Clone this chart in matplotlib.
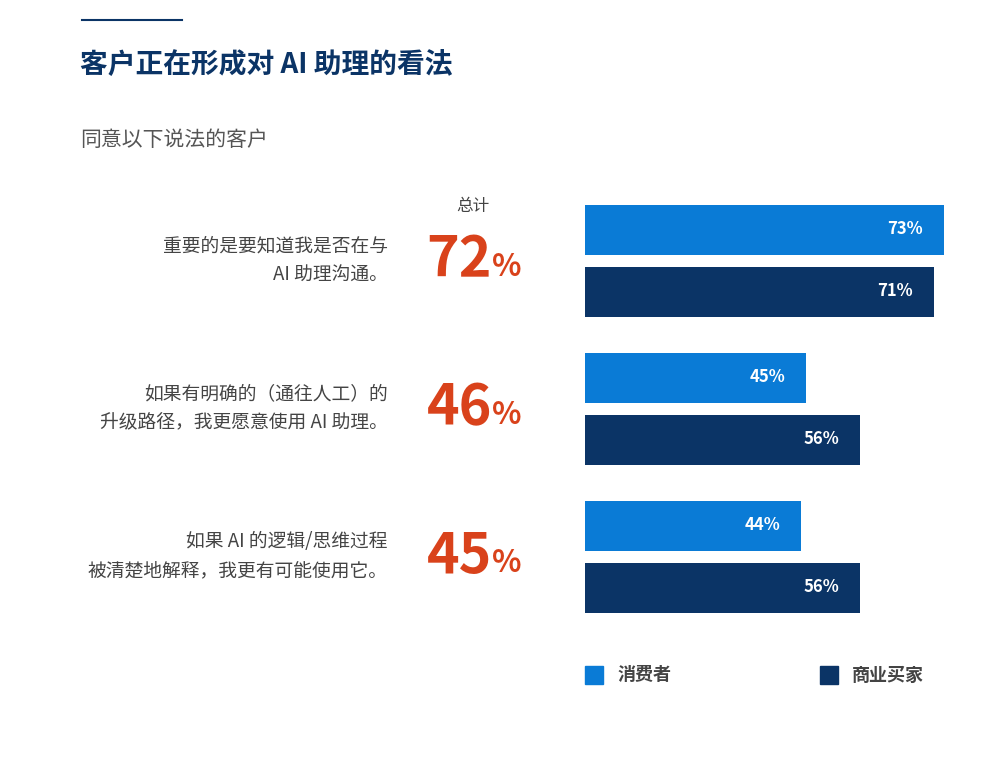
import matplotlib
matplotlib.use("Agg")
from matplotlib import pyplot as plt
from matplotlib.patches import Rectangle
from matplotlib.lines import Line2D

plt.rcParams["font.family"] = ["Noto Sans CJK SC", "Noto Sans CJK JP", "Noto Sans CJK TC",
                               "Noto Sans CJK KR", "DejaVu Sans"]

statements = ["重要的是要知道我是否在与\nAI 助理沟通。",
              "如果有明确的（通往人工）的\n升级路径，我更愿意使用 AI 助理。",
              "如果 AI 的逻辑/思维过程\n被清楚地解释，我更有可能使用它。"]
totals = [72, 46, 45]
consumers = [73, 45, 44]
business = [71, 56, 56]
series_names = ["消费者", "商业买家"]

light = "#0a7bd6"
navy = "#0b3466"
orange = "#d9421b"
W, H = 1000, 760

fig = plt.figure(figsize=(10, 7.6), dpi=100)

def fx(px):
    return px / W

def fy(py):
    return 1 - py / H

# header
fig.add_artist(Line2D([fx(82), fx(182)], [fy(20), fy(20)], color=navy, lw=1.5))
fig.text(fx(80), fy(65), "客户正在形成对 AI 助理的看法", fontsize=20, fontweight="bold",
         color=navy, va="center")
fig.text(fx(80), fy(140), "同意以下说法的客户", fontsize=15, color="#555555", va="center")
fig.text(fx(473), fy(206), "总计", fontsize=12, color="#444444", va="center", ha="center")

# bars, y axis in pixel units of the figure
ax = fig.add_axes([fx(585), fy(613), fx(944) - fx(585), fy(204) - fy(613)])
ax.set_xlim(0, 73)
ax.set_ylim(613, 204)
ax.axis("off")
for i in range(len(statements)):
    center = 260.5 + i * 148
    for val, col, off in [(consumers[i], light, -31), (business[i], navy, 31)]:
        ax.barh(center + off, val, height=50, color=col)
        ax.text(val - 4.3, center + off, f"{val}%", color="white", fontsize=12,
                fontweight="bold", ha="right", va="center")
    fig.text(fx(388), fy(center), statements[i], fontsize=13.5, color="#444444",
             ha="right", va="center", linespacing=1.5)
    fig.text(fx(492), fy(center), str(totals[i]), fontsize=40, fontweight="bold",
             color=orange, ha="right", va="center")
    fig.text(fx(492), fy(center + 7), "%", fontsize=22, fontweight="bold",
             color=orange, ha="left", va="center")

# legend
for x0, col, name in [(585, light, series_names[0]), (820, navy, series_names[1])]:
    fig.add_artist(Rectangle((fx(x0), fy(684)), fx(18), 18 / H, color=col,
                             transform=fig.transFigure))
    fig.text(fx(x0 + 32), fy(675), name, fontsize=13, fontweight="bold",
             color="#444444", va="center")

fig.savefig("out.png", dpi=100)
